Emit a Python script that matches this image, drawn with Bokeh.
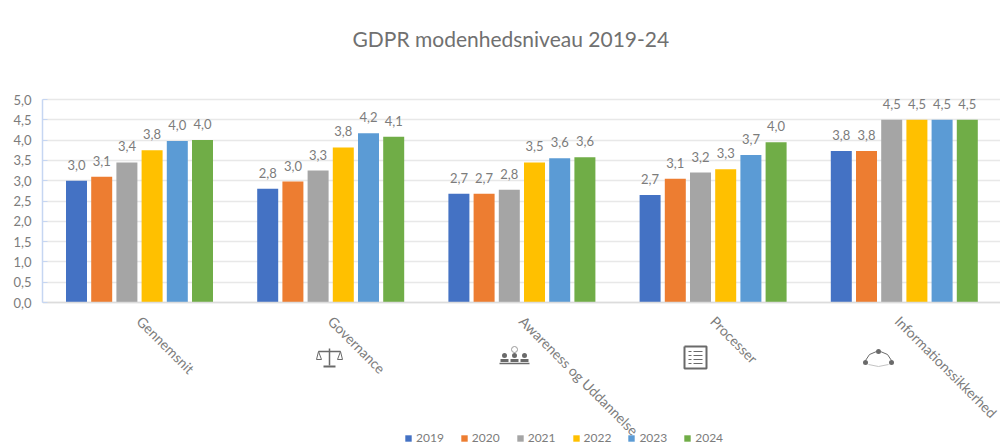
import math
from bokeh.core.properties import value
from bokeh.embed import file_html
from bokeh.models import FixedTicker, Legend, LegendItem, Range1d, Title
from bokeh.plotting import figure
from bokeh.resources import INLINE

title = "GDPR modenhedsniveau 2019-24"
categories = ["Gennemsnit", "Governance", "Awareness og Uddannelse", "Processer", "Informationssikkerhed"]
years = ["2019", "2020", "2021", "2022", "2023", "2024"]
v2019 = [3.0, 2.8, 2.68, 2.65, 3.73]
v2020 = [3.1, 2.98, 2.68, 3.05, 3.73]
v2021 = [3.45, 3.25, 2.78, 3.2, 4.5]
v2022 = [3.75, 3.82, 3.45, 3.28, 4.5]
v2023 = [3.98, 4.17, 3.55, 3.63, 4.5]
v2024 = [4.0, 4.08, 3.58, 3.95, 4.5]
l2019 = ["3,0", "2,8", "2,7", "2,7", "3,8"]
l2020 = ["3,1", "3,0", "2,7", "3,1", "3,8"]
l2021 = ["3,4", "3,3", "2,8", "3,2", "4,5"]
l2022 = ["3,8", "3,8", "3,5", "3,3", "4,5"]
l2023 = ["4,0", "4,2", "3,6", "3,7", "4,5"]
l2024 = ["4,0", "4,1", "3,6", "4,0", "4,5"]
y_ticks = [0, 0.5, 1, 1.5, 2, 2.5, 3, 3.5, 4, 4.5, 5]
y_tick_labels = ["0,0", "0,5", "1,0", "1,5", "2,0", "2,5", "3,0", "3,5", "4,0", "4,5", "5,0"]
series = [v2019, v2020, v2021, v2022, v2023, v2024]
labels = [l2019, l2020, l2021, l2022, l2023, l2024]
colors = ["#4472C4", "#ED7D31", "#A5A5A5", "#FFC000", "#5B9BD5", "#70AD47"]

# pixel geometry
FONT = "Lato"
TEXT = "#7c7c7c"
LEFT, RIGHT, TOP, BOTTOM = 42, 1000, 69, 446
Y0, Y5 = 303, 100
PX_U = (Y0 - Y5) / 5
PX_G = 191.2
G0 = 139

x0 = -(G0 - LEFT) / PX_G
x1 = x0 + (RIGHT - LEFT) / PX_G
y1 = (Y0 - TOP) / PX_U
y0 = -(BOTTOM - Y0) / PX_U

p = figure(width=1000, height=446, output_backend="svg", toolbar_location=None,
           x_range=Range1d(x0, x1), y_range=Range1d(y0, y1),
           frame_width=RIGHT - LEFT, frame_height=BOTTOM - TOP,
           min_border_left=LEFT, min_border_right=0, min_border_bottom=0, min_border_top=TOP - 1)
p.outline_line_color = None
p.background_fill_color = "white"

t = Title(text=title, align="left", text_font=FONT, text_font_size="21px",
          text_color="#707070", text_font_style="normal", offset=310, standoff=36)
p.add_layout(t, "above")

p.xgrid.visible = False
p.ygrid.ticker = FixedTicker(ticks=y_ticks)
p.ygrid.bounds = (0, 5)
p.ygrid.grid_line_color = "#e8e8e8"
p.ygrid.grid_line_width = 1.5

ax = p.xaxis[0]
ax.ticker = FixedTicker(ticks=list(range(len(categories))))
ax.major_label_overrides = dict(enumerate(categories))
ax.major_label_orientation = -math.pi / 4
ax.fixed_location = 0
ax.major_tick_line_color = None
ax.minor_tick_line_color = None
ax.axis_line_color = "#dcdcdc"
ax.axis_line_width = 1.5
ax.major_label_standoff = 10
ax.major_label_text_font = FONT
ax.major_label_text_font_size = "14px"
ax.major_label_text_color = TEXT

ay = p.yaxis[0]
ay.ticker = FixedTicker(ticks=y_ticks)
ay.major_label_overrides = dict(zip(y_ticks, y_tick_labels))
ay.bounds = (0, 5)
ay.minor_tick_line_color = None
ay.major_tick_in = 5
ay.major_tick_out = 0
ay.major_tick_line_color = "#c6d6f2"
ay.axis_line_color = "#c6d6f2"
ay.axis_line_width = 1.5
ay.major_label_standoff = 11
ay.major_label_text_font = FONT
ay.major_label_text_font_size = "13px"
ay.major_label_text_color = TEXT

items = []
BAR, STEP = 21 / PX_G, 25.2 / PX_G
for i, (vals, labs, col, yr) in enumerate(zip(series, labels, colors, years)):
    xs = [g + (i - 2.5) * STEP for g in range(len(categories))]
    r = p.vbar(x=xs, top=vals, bottom=0, width=BAR, fill_color=col, line_color=None)
    p.text(x=xs, y=vals, text=labs, text_font=value(FONT), text_font_size="13px",
           text_color=TEXT, text_align="center", text_baseline="middle", y_offset=-16)
    items.append(LegendItem(label=yr, renderers=[r]))

leg = Legend(items=items, orientation="horizontal", location=(362, 0), border_line_color=None,
             background_fill_alpha=0, padding=0, margin=0, spacing=16, label_standoff=4,
             glyph_width=8, glyph_height=8, label_text_font=FONT, label_text_font_size="12px",
             label_text_color=TEXT, label_height=12)
p.add_layout(leg, "center")

# decorative icons, given in pixels
def X(px): return x0 + (px - LEFT) / PX_G
def Y(py): return (Y0 - py) / PX_U
ICON = "#6a6a6a"
def seg(pts, w=1.5):
    p.line([X(a) for a, b in pts], [Y(b) for a, b in pts], line_color=ICON, line_width=w)

# scales
cx, cy = 329, 358
seg([(cx, cy - 9), (cx, cy + 8)])
seg([(cx - 6, cy + 9), (cx + 6, cy + 9)], 2)
seg([(cx - 11, cy - 6), (cx + 11, cy - 6)])
seg([(cx - 11, cy - 6), (cx - 13, cy + 2), (cx - 8, cy + 2), (cx - 11, cy - 6)], 1)
seg([(cx + 11, cy - 6), (cx + 8, cy + 2), (cx + 13, cy + 2), (cx + 11, cy - 6)], 1)
# people
cx, cy = 514, 357
for dx in (-10, 0, 10):
    p.scatter(x=[X(cx + dx)], y=[Y(cy - 1)], size=5, fill_color=ICON, line_color=None)
    seg([(cx + dx - 4, cy + 4), (cx + dx + 4, cy + 4)], 3)
seg([(cx - 15, cy + 7), (cx + 15, cy + 7)], 1.5)
p.scatter(x=[X(cx)], y=[Y(cy - 7)], size=6, fill_color="white", line_color="#9a9a9a")
# checklist
cx, cy = 695, 358
seg([(cx - 11, cy - 11), (cx + 11, cy - 11), (cx + 11, cy + 11), (cx - 11, cy + 11), (cx - 11, cy - 11)], 2)
for dy in (-6, -2, 2, 6):
    seg([(cx - 7, cy + dy), (cx - 4, cy + dy)], 1)
    seg([(cx - 2, cy + dy), (cx + 7, cy + dy)], 1)
# cycle
cx, cy = 878, 360
seg([(cx - 13, cy + 1), (cx - 9, cy - 5), (cx - 2, cy - 8)], 1)
seg([(cx + 2, cy - 8), (cx + 9, cy - 5), (cx + 13, cy + 1)], 1)
p.line([X(cx - 10), X(cx), X(cx + 10)], [Y(cy + 5), Y(cy + 7), Y(cy + 5)], line_color="#c4c4c4", line_width=1)
p.scatter(x=[X(cx), X(cx - 13), X(cx + 13)], y=[Y(cy - 8), Y(cy + 3), Y(cy + 3)], size=5, fill_color=ICON, line_color=None)

open("out.html", "w").write(file_html(p, INLINE))
